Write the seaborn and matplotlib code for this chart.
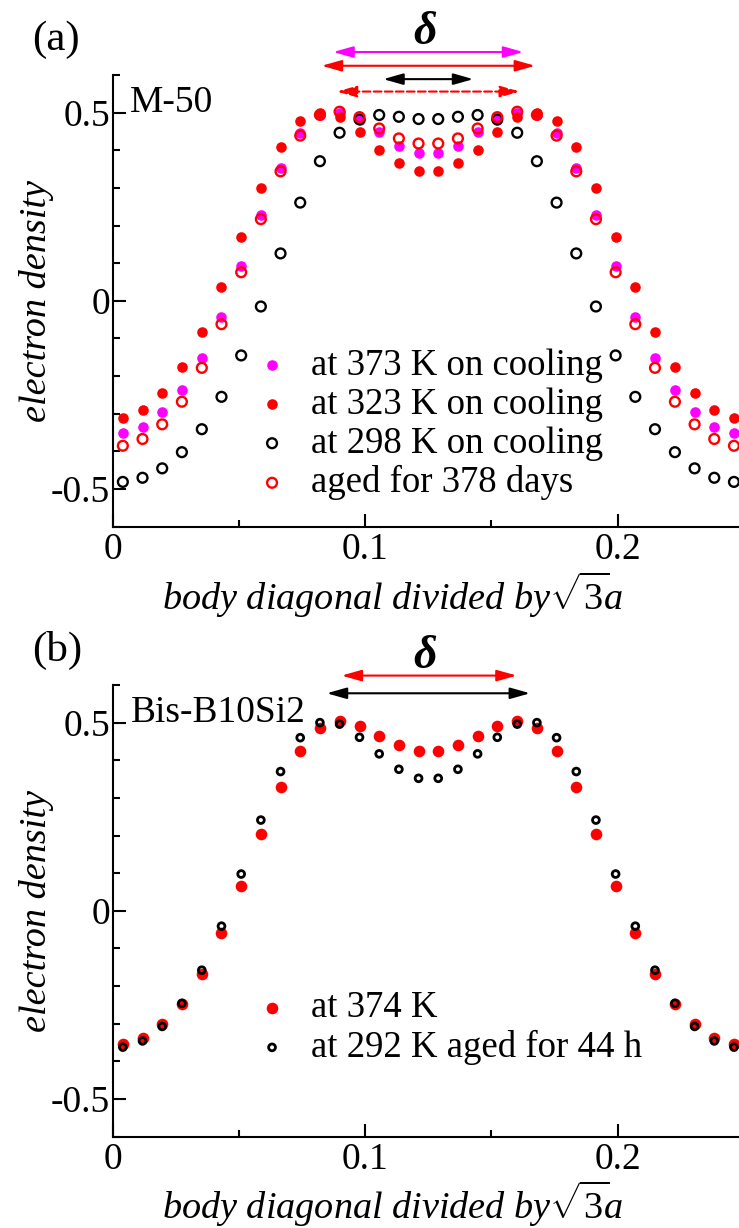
import numpy as np
import matplotlib
matplotlib.use("Agg")
import matplotlib.pyplot as plt
import seaborn as sns
from matplotlib.ticker import MultipleLocator

# ---------------- data ----------------
x_pos = [0.0039, 0.0117, 0.0195, 0.0273, 0.0352, 0.0430, 0.0508, 0.0586,
         0.0664, 0.0742, 0.0820, 0.0898, 0.0977, 0.1055, 0.1133, 0.1211,
         0.1289, 0.1367, 0.1445, 0.1523, 0.1602, 0.1680, 0.1758, 0.1836,
         0.1914, 0.1992, 0.2070, 0.2148, 0.2227, 0.2305, 0.2383, 0.2461]

# panel (a) M-50
a_373 = [-0.351, -0.334, -0.296, -0.238, -0.151, -0.042, 0.092, 0.229,
         0.354, 0.445, 0.495, 0.500, 0.480, 0.4475, 0.411, 0.393,
         0.393, 0.411, 0.4475, 0.480, 0.500, 0.495, 0.445, 0.354,
         0.229, 0.092, -0.042, -0.151, -0.238, -0.296, -0.334, -0.351]
a_323 = [-0.311, -0.289, -0.246, -0.177, -0.083, 0.037, 0.169, 0.300,
         0.409, 0.479, 0.499, 0.4876, 0.4475, 0.402, 0.365, 0.344,
         0.344, 0.365, 0.402, 0.4475, 0.4876, 0.499, 0.479, 0.409,
         0.300, 0.169, 0.037, -0.083, -0.177, -0.246, -0.289, -0.311]
a_298 = [-0.481, -0.470, -0.445, -0.402, -0.341, -0.255, -0.145, -0.015,
         0.126, 0.261, 0.371, 0.4466, 0.482, 0.4937, 0.489, 0.483,
         0.483, 0.489, 0.4937, 0.482, 0.4466, 0.371, 0.261, 0.126,
         -0.015, -0.145, -0.255, -0.341, -0.402, -0.445, -0.470, -0.481]
a_aged = [-0.385, -0.367, -0.328, -0.268, -0.178, -0.062, 0.076, 0.217,
          0.344, 0.439, 0.494, 0.5025, 0.488, 0.458, 0.4315, 0.418,
          0.418, 0.4315, 0.458, 0.488, 0.5025, 0.494, 0.439, 0.344,
          0.217, 0.076, -0.062, -0.178, -0.268, -0.328, -0.367, -0.385]

# panel (b) Bis-B10Si2
b_374 = [-0.3545, -0.337, -0.301, -0.247, -0.168, -0.060, 0.0665, 0.203,
         0.328, 0.4255, 0.485, 0.505, 0.492, 0.4655, 0.440, 0.4247,
         0.4247, 0.440, 0.4655, 0.492, 0.505, 0.485, 0.4255, 0.328,
         0.203, 0.0665, -0.060, -0.168, -0.247, -0.301, -0.337, -0.3545]
b_292 = [-0.3625, -0.346, -0.3075, -0.246, -0.158, -0.041, 0.0976, 0.241,
         0.370, 0.460, 0.500, 0.496, 0.461, 0.417, 0.376, 0.352,
         0.352, 0.376, 0.417, 0.461, 0.496, 0.500, 0.460, 0.370,
         0.241, 0.0976, -0.041, -0.158, -0.246, -0.3075, -0.346, -0.3625]

labels_a = ["at 373 K on cooling", "at 323 K on cooling",
            "at 298 K on cooling", "aged for 378 days"]
labels_b = ["at 374 K", "at 292 K aged for 44 h"]

x_ticks = [0, 0.1, 0.2]
x_ticklabels = ["0", "0.1", "0.2"]
y_ticks = [-0.5, 0, 0.5]
y_ticklabels = ["-0.5", "0", "0.5"]

# delta arrows: (x_start, x_end, y, colour, linestyle)
arrows_a = [(0.0873, 0.1626, 0.661, "#ff00ff", "-"),
            (0.0827, 0.1673, 0.6245, "#ff0000", "-"),
            (0.1071, 0.1428, 0.589, "black", "-"),
            (0.0887, 0.1613, 0.556, "#ff0000", "--")]
arrows_b = [(0.0906, 0.1600, 0.625, "#ff0000", "-"),
            (0.0847, 0.1653, 0.578, "black", "-")]

# ---------------- style ----------------
sns.set_theme(style="ticks")
plt.rcParams["font.family"] = ["Liberation Serif", "DejaVu Serif"]
plt.rcParams["mathtext.fontset"] = "custom"
plt.rcParams["mathtext.rm"] = "Liberation Serif"
plt.rcParams["mathtext.it"] = "Liberation Serif:italic"
plt.rcParams["mathtext.bf"] = "Liberation Serif:bold"
plt.rcParams["axes.unicode_minus"] = False
for k in ["text.color", "axes.labelcolor", "xtick.color", "ytick.color",
          "axes.edgecolor"]:
    plt.rcParams[k] = "black"

W, H = 739, 1228
fig = plt.figure(figsize=(W / 100, H / 100), dpi=100)
fig.patch.set_facecolor("white")


def fx(px):
    return px / W


def fy(py):
    return 1 - py / H


TICK_FS = 27
LAB_FS = 27.5
LEG_FS = 26.5

ax_a = fig.add_axes([fx(113), fy(526.7), (743.8 - 113) / W, (526.7 - 75) / H])
ax_b = fig.add_axes([fx(113), fy(1136.5), (743.8 - 113) / W, (1136.5 - 685) / H])


def style_axes(ax):
    ax.set_xlim(0, 0.25)
    ax.set_ylim(-0.6, 0.6)
    for s in ["top", "right"]:
        ax.spines[s].set_visible(False)
    for s in ["left", "bottom"]:
        ax.spines[s].set_linewidth(1.5)
        ax.spines[s].set_color("black")
    ax.set_xticks(x_ticks)
    ax.set_xticklabels(x_ticklabels)
    ax.set_yticks(y_ticks)
    ax.set_yticklabels(y_ticklabels)
    ax.xaxis.set_minor_locator(MultipleLocator(0.05))
    ax.yaxis.set_minor_locator(MultipleLocator(0.1))
    ax.tick_params(which="major", direction="in", length=9.5, width=1.5,
                   labelsize=TICK_FS, colors="black")
    ax.tick_params(which="minor", direction="in", length=5, width=1.5,
                   colors="black")
    ax.tick_params(axis="y", which="major", pad=2)
    ax.tick_params(axis="x", which="major", pad=4)
    ax.set_facecolor("white")
    ax.grid(False)
    ax.set_xlabel(r"body diagonal divided by$\sqrt{\mathit{3}}\!\mathit{a}$",
                  fontsize=LAB_FS, style="italic", va="center", color="black")
    ax.set_ylabel("electron density", fontsize=LAB_FS, style="italic",
                  va="center", ha="center", color="black")
    ax.xaxis.set_label_coords((392 - 113) / 630.8, -0.15)
    ax.yaxis.set_label_coords((36 - 113) / 630.8, 0.5)


style_axes(ax_a)
style_axes(ax_b)

# ---------------- panel (a) ----------------
sns.scatterplot(x=x_pos, y=a_373, ax=ax_a, marker="o", s=58, color="#ff00ff",
                linewidth=0, label=labels_a[0], zorder=3)
sns.scatterplot(x=x_pos, y=a_323, ax=ax_a, marker="o", s=58, color="#ff0000",
                linewidth=0, label=labels_a[1], zorder=4)
sns.scatterplot(x=x_pos, y=a_298, ax=ax_a, marker="o", s=50, color="none",
                edgecolor="black", linewidth=1.7, label=labels_a[2], zorder=5)
sns.scatterplot(x=x_pos, y=a_aged, ax=ax_a, marker="o", s=50, color="none",
                edgecolor="#ff0000", linewidth=1.7, label=labels_a[3], zorder=6)

# ---------------- panel (b) ----------------
sns.scatterplot(x=x_pos, y=b_374, ax=ax_b, marker="o", s=70, color="#ff0000",
                linewidth=0, label=labels_b[0], zorder=3)
sns.scatterplot(x=x_pos, y=b_292, ax=ax_b, marker="o", s=24, color="none",
                edgecolor="black", linewidth=2.0, label=labels_b[1], zorder=5)

for ax in (ax_a, ax_b):
    for c in ax.collections:
        c.set_clip_on(False)

# legends
leg_kw = dict(bbox_transform=fig.transFigure, frameon=False, fontsize=LEG_FS,
              handlelength=0.6, handletextpad=0.75, borderpad=0,
              borderaxespad=0, labelspacing=0.12, scatterpoints=1,
              markerscale=1)
leg_a = ax_a.legend(loc="center left", bbox_to_anchor=(fx(261), fy(424.5)),
                    **leg_kw)
leg_b = ax_b.legend(loc="center left", bbox_to_anchor=(fx(261), fy(1028)),
                    **leg_kw)
for leg in (leg_a, leg_b):
    for t in leg.get_texts():
        t.set_color("black")


# arrows
def draw_arrows(ax, arrows):
    for x0, x1, yv, col, ls in arrows:
        ax.annotate("", xy=(x1, yv), xytext=(x0, yv), xycoords="data",
                    textcoords="data", annotation_clip=False,
                    arrowprops=dict(arrowstyle="<|-|>,head_length=0.6,head_width=0.17",
                                    color=col, lw=1.5, ls=ls, shrinkA=0,
                                    shrinkB=0, mutation_scale=20))


draw_arrows(ax_a, arrows_a)
draw_arrows(ax_b, arrows_b)

# texts
fig.text(fx(425), fy(33), "δ", fontsize=33, fontweight="bold", style="italic",
         ha="center", va="center")
fig.text(fx(425), fy(657), "δ", fontsize=33, fontweight="bold", style="italic",
         ha="center", va="center")
fig.text(fx(56), fy(40), "(a)", fontsize=31, ha="center", va="center")
fig.text(fx(57), fy(650), "(b)", fontsize=31, ha="center", va="center")
fig.text(fx(130), fy(112), "M-50", fontsize=27, ha="left", va="baseline")
fig.text(fx(131), fy(721.7), "Bis-B10Si2", fontsize=27, ha="left", va="baseline")

fig.savefig("out.png", dpi=100, facecolor="white")
